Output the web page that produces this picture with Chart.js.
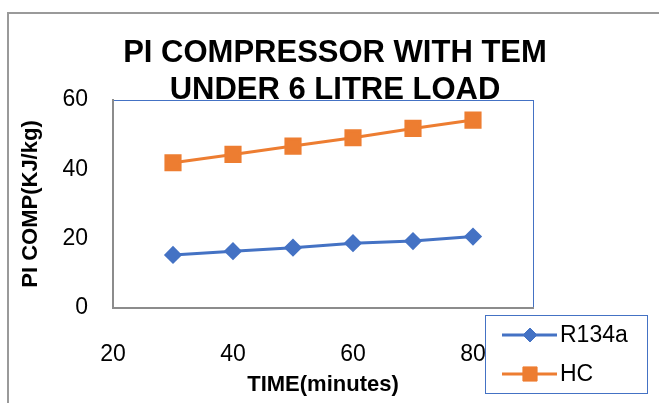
<!DOCTYPE html>
<html>
<head>
  <title>PI Compressor</title>
  <script src="https://cdn.jsdelivr.net/npm/chart.js"></script>
  <style>
    body { margin: 0; background: #fff; }
  </style>
</head>
<body>
  <canvas id="piChart" width="659" height="403"></canvas>

  <script>
    // values
    const times = [30, 40, 50, 60, 70, 80];
    const r134a = [15.3, 16.4, 17.4, 18.7, 19.3, 20.6];
    const hc = [41.9, 44.3, 46.7, 49.1, 51.8, 54.2];
    const seriesNames = ['R134a', 'HC'];
    const titleLines = ['PI COMPRESSOR WITH TEM', 'UNDER 6 LITRE LOAD'];

    const BLUE = '#4472C4';
    const ORANGE = '#ED7D31';

    const toPoints = vals => vals.map((v, i) => ({ x: times[i], y: v }));

    // white page + outer chart border + blue plot frame
    const frame = {
      id: 'frame',
      beforeDraw(chart) {
        const ctx = chart.ctx, a = chart.chartArea;
        ctx.save();
        ctx.fillStyle = '#fff';
        ctx.fillRect(0, 0, chart.width, chart.height);
        ctx.strokeStyle = '#9a9a9a';
        ctx.lineWidth = 2;
        ctx.strokeRect(8, 13, 700, 450);
        ctx.strokeStyle = BLUE;
        ctx.lineWidth = 1;
        ctx.strokeRect(a.left + 0.5, a.top + 0.5, a.right - a.left, a.bottom - a.top);
        ctx.restore();
      }
    };

    // title and floating legend, drawn on top like the excel chart
    const overlay = {
      id: 'overlay',
      afterDraw(chart) {
        const ctx = chart.ctx;
        ctx.save();
        ctx.fillStyle = '#000';
        ctx.font = 'bold 31px "Liberation Sans", Arial, sans-serif';
        ctx.textAlign = 'center';
        ctx.textBaseline = 'alphabetic';
        ctx.fillText(titleLines[0], 335, 62);
        ctx.fillText(titleLines[1], 335, 99);

        // legend box
        ctx.fillStyle = '#fff';
        ctx.fillRect(485, 315, 162, 78);
        ctx.strokeStyle = BLUE;
        ctx.lineWidth = 1;
        ctx.strokeRect(485.5, 315.5, 162, 78);

        const rows = [
          { color: BLUE, style: 'rectRot', r: 7, y: 335 },
          { color: ORANGE, style: 'rect', r: 10, y: 374 }
        ];
        ctx.font = '23px "Liberation Sans", Arial, sans-serif';
        ctx.textAlign = 'left';
        ctx.textBaseline = 'middle';
        rows.forEach((row, i) => {
          ctx.strokeStyle = row.color;
          ctx.lineWidth = 3;
          ctx.beginPath();
          ctx.moveTo(502, row.y);
          ctx.lineTo(557, row.y);
          ctx.stroke();
          ctx.fillStyle = row.color;
          ctx.lineWidth = 1;
          Chart.helpers.drawPoint(ctx, { pointStyle: row.style, radius: row.r, rotation: 0, borderWidth: 1 }, 530, row.y);
          ctx.fillStyle = '#000';
          ctx.fillText(seriesNames[i], 560, row.y + 1);
        });
        ctx.restore();
      }
    };

    const ctx = document.getElementById('piChart').getContext('2d');
    new Chart(ctx, {
      type: 'line',
      data: {
        datasets: [
          {
            label: seriesNames[0],
            data: toPoints(r134a),
            borderColor: BLUE,
            backgroundColor: BLUE,
            borderWidth: 3,
            pointStyle: 'rectRot',
            pointRadius: 7,
            pointHoverRadius: 7
          },
          {
            label: seriesNames[1],
            data: toPoints(hc),
            borderColor: ORANGE,
            backgroundColor: ORANGE,
            borderWidth: 3,
            pointStyle: 'rect',
            pointRadius: 10,
            pointHoverRadius: 10
          }
        ]
      },
      options: {
        responsive: false,
        animation: false,
        layout: { padding: { top: 100, right: 126, left: 0, bottom: 0 } },
        plugins: {
          legend: { display: false },
          title: { display: false },
          tooltip: { enabled: false }
        },
        scales: {
          x: {
            type: 'linear',
            min: 20,
            max: 90,
            grid: { display: false, drawTicks: false },
            border: { display: true, color: '#8c8c8c', width: 2 },
            ticks: {
              stepSize: 20,
              padding: 33,
              color: '#000',
              font: { family: 'Liberation Sans', size: 23 },
              callback: v => (v % 20 === 0 && v <= 80 ? v : '')
            },
            title: {
              display: true,
              text: 'TIME(minutes)',
              color: '#000',
              font: { family: 'Liberation Sans', size: 22, weight: 'bold' },
              padding: { top: 5, bottom: 5 }
            },
            afterFit(scale) { scale.height = 95; }
          },
          y: {
            min: 0,
            max: 60,
            grid: { display: false, drawTicks: false },
            border: { display: true, color: '#8c8c8c', width: 2 },
            ticks: {
              stepSize: 20,
              padding: 25,
              color: '#000',
              font: { family: 'Liberation Sans', size: 23 }
            },
            title: {
              display: true,
              text: 'PI COMP(KJ/kg)',
              color: '#000',
              font: { family: 'Liberation Sans', size: 22, weight: 'bold' },
              padding: { top: 18, bottom: 0 }
            },
            afterFit(scale) { scale.width = 113; }
          }
        }
      },
      plugins: [frame, overlay]
    });
  </script>
</body>
</html>
